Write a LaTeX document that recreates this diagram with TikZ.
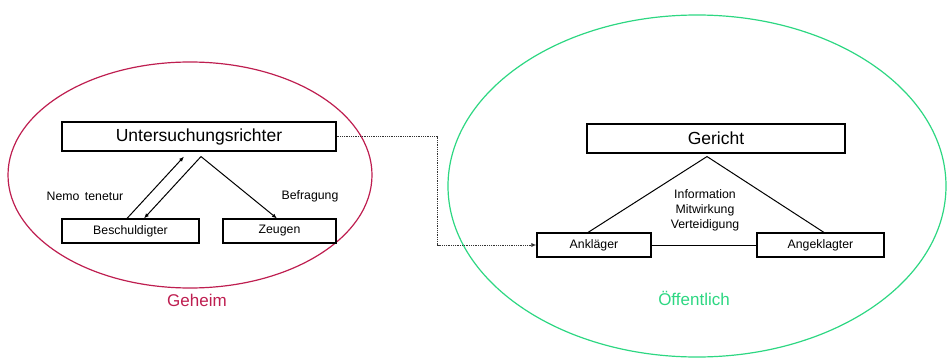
\documentclass[tikz,border=0pt]{standalone}
\usepackage{fontspec}
\setmainfont{Liberation Sans}
\usetikzlibrary{arrows.meta}
\definecolor{geheimrot}{RGB}{190,30,80}
\definecolor{offengruen}{RGB}{45,215,130}

\begin{document}
\begin{tikzpicture}[x=1pt,y=-1pt,
		box/.style={draw,line width=1.1pt,inner sep=0pt,minimum height=24,font=\fontsize{12.3}{14}\selectfont},
		bigbox/.style={box,minimum height=29,font=\fontsize{17.5}{20}\selectfont},
		link/.style={line width=1pt},
		pfeil/.style={link,-{Latex[length=5pt,width=4pt]}},
		randtext/.style={font=\fontsize{12.3}{15}\selectfont,align=center}]
			\useasboundingbox (0,0) rectangle (948,361);
			%% geheim
			\draw[geheimrot,line width=1.2pt] (190,175) ellipse [x radius=182,y radius=113];
			\node[bigbox,minimum width=274] (richter) at (199,136.5) {Untersuchungsrichter};
			\node[box,minimum width=137] (beschuldigter) at (130.5,231) {Beschuldigter};
			\node[box,minimum width=113] (zeugen) at (279.5,231) {Zeugen};
			\coordinate (richterspitze) at ([xshift=2,yshift=-5]richter.south);
			\draw[pfeil] ([xshift=-3.5]beschuldigter.north) -- ([xshift=-15,yshift=-5]richter.south);
			\draw[pfeil] (richterspitze) -- ([xshift=13.5]beschuldigter.north);
			\draw[pfeil] (richterspitze) -- ([xshift=-2.5]zeugen.north);
			\node[randtext] (nemo) at (85,196) {Nemo\, tenetur};
			\node[randtext] (befragung) at (310,196) {Befragung};
			\node[geheimrot,font=\fontsize{17}{20}\selectfont] (geheim) at (197,300) {Geheim};
			%% oeffentlich
			\draw[offengruen,line width=1.2pt] (697,186) ellipse [x radius=249,y radius=171];
			\node[bigbox,minimum width=258] (gericht) at (716,138.5) {Gericht};
			\node[box,minimum width=114] (anklaeger) at (594,245) {Ankläger};
			\node[box,minimum width=127] (angeklagter) at (820.5,245) {Angeklagter};
			\coordinate (gerichtspitze) at ([xshift=-9,yshift=-3]gericht.south);
			\draw[link] ([xshift=-6]anklaeger.north) -- (gerichtspitze) -- ([xshift=3.5]angeklagter.north);
			\draw[link] (anklaeger) -- (angeklagter);
			\node[randtext] (rechte) at (705,210) {Information\\Mitwirkung\\Verteidigung};
			\node[offengruen,font=\fontsize{17}{20}\selectfont] (oeffentlich) at (694,298) {Öffentlich};
			%% uebergang
			\draw[black!80,line width=1pt,dash pattern=on 1pt off 0.8pt,-{Latex[length=5pt,width=4pt]}]
				(richter.east) -- ++(101,0) |- (anklaeger.west);
\end{tikzpicture}
\end{document}
